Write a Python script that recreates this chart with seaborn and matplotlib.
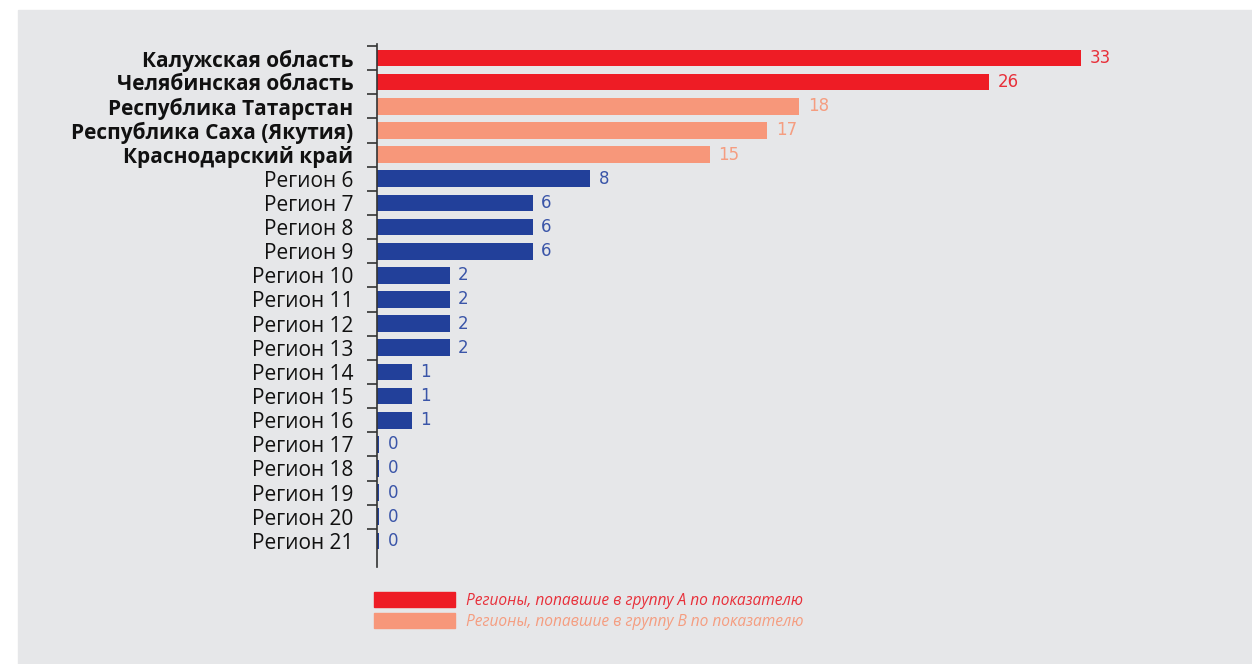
import matplotlib
matplotlib.use("Agg")
import matplotlib.pyplot as plt
import matplotlib.patches as mpatches
import seaborn as sns
import pandas as pd

# data: labels printed next to bars, and bar lengths as drawn in the picture
# (the drawn lengths are not proportional to the printed numbers)
regions = ["Калужская область", "Челябинская область", "Республика Татарстан",
           "Республика Саха (Якутия)", "Краснодарский край"] + \
          [f"Регион {i}" for i in range(6, 22)]
value_labels = [33, 26, 18, 17, 15, 8, 6, 6, 6, 2, 2, 2, 2, 1, 1, 1, 0, 0, 0, 0, 0]
bar_lengths = [33, 28.7, 19.8, 18.3, 15.6, 10.0, 7.3, 7.3, 7.3, 3.4, 3.4, 3.4, 3.4,
               1.65, 1.65, 1.65, 0.1, 0.1, 0.1, 0.1, 0.1]
groups = ["A", "A", "B", "B", "B"] + ["C"] * 16
legend_labels = ["Регионы, попавшие в группу А по показателю",
                 "Регионы, попавшие в группу В по показателю"]

bar_colors = {"A": "#ee1c25", "B": "#f7977a", "C": "#22409a"}
text_colors = {"A": "#e8303a", "B": "#f59d80", "C": "#3a55a8"}
bg = "#e6e7e9"

df = pd.DataFrame({"region": regions, "length": bar_lengths, "group": groups,
                   "label": value_labels})

sns.set_style("white")
plt.rcParams["font.family"] = ["Open Sans", "DejaVu Sans"]

fig = plt.figure(figsize=(12.52, 6.64), dpi=100, facecolor="white")
# grey panel behind everything
fig.patches.append(mpatches.Rectangle((18 / 1252, 0), 1, 1 - 10 / 664,
                                      transform=fig.transFigure, color=bg, zorder=-1))

ax = fig.add_axes([377 / 1252, 1 - 567 / 664, (1240 - 377) / 1252, (567 - 44) / 664])
ax.set_facecolor(bg)

sns.barplot(data=df, x="length", y="region", hue="group", palette=bar_colors,
            dodge=False, width=0.69, legend=False, ax=ax, saturation=1, linewidth=0)

# value labels, one container per group
for cont, g in zip(ax.containers, ["A", "B", "C"]):
    labs = df.loc[df["group"] == g, "label"].astype(str).tolist()
    ax.bar_label(cont, labels=labs, padding=6, color=text_colors[g], fontsize=12,
                 family="DejaVu Sans")

ax.set_xlim(0, (1240 - 377) / 21.33)
ax.set_ylim(21.08, -0.58)
ax.set_xlabel("")
ax.set_ylabel("")
ax.set_xticks([])
for s in ["top", "right", "bottom"]:
    ax.spines[s].set_visible(False)
ax.spines["left"].set_color("#333333")
ax.spines["left"].set_linewidth(1.2)

ax.set_yticks(range(len(regions)))
ax.set_yticklabels(regions)
ax.tick_params(axis="y", which="major", left=False, length=0, pad=17,
               labelsize=15, labelcolor="#111111")
for lbl in ax.get_yticklabels()[:5]:
    lbl.set_fontweight("bold")
ax.set_yticks([i - 0.5 for i in range(len(regions))], minor=True)
ax.tick_params(axis="y", which="minor", left=True, length=7.5, width=1.2,
               color="#333333", direction="out")

handles = [mpatches.Patch(color=bar_colors["A"]), mpatches.Patch(color=bar_colors["B"])]
fig.legend(handles, legend_labels, loc="upper left",
           bbox_to_anchor=(374 / 1252, 1 - 592 / 664), frameon=False,
           borderpad=0, borderaxespad=0, handlelength=5.2, handleheight=1.09,
           handletextpad=0.7, labelspacing=0.3,
           prop={"style": "italic", "size": 11.2},
           labelcolor=[text_colors["A"], text_colors["B"]])

fig.savefig("out.png", dpi=100, facecolor="white")
